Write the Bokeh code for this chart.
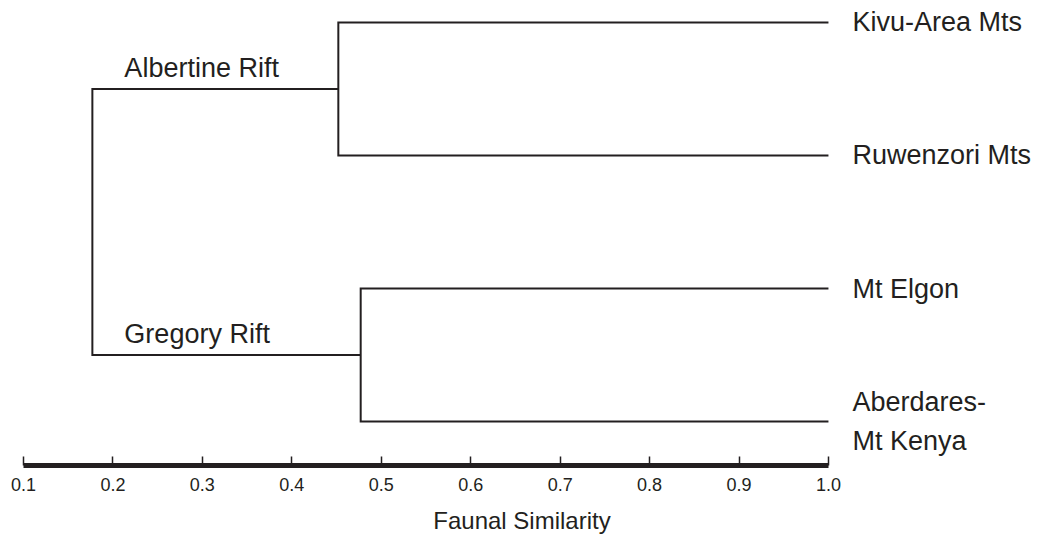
from bokeh.plotting import figure
from bokeh.models import Range1d, FixedTicker, PrintfTickFormatter
from bokeh.core.properties import value
from bokeh.embed import file_html
from bokeh.resources import INLINE

# ---- data ----
leaf_names = ["Kivu-Area Mts", "Ruwenzori Mts", "Mt Elgon", "Aberdares-\nMt Kenya"]
leaf_similarity = [1.0, 1.0, 1.0, 1.0]
cluster_names = ["Albertine Rift", "Gregory Rift"]
cluster_similarity = [0.452, 0.477]
cluster_members = [[0, 1], [2, 3]]
root_similarity = 0.177
tick_values = [0.1, 0.2, 0.3, 0.4, 0.5, 0.6, 0.7, 0.8, 0.9, 1.0]
axis_title = "Faunal Similarity"

INK = "#231f20"
FONT = value("Liberation Sans")

W, H = 1043, 536
px_per_unit = 894.4
x0_px = 23
axis_px = 466
leaf_top_px = 22
leaf_step_px = 133.33
p = figure(width=W, height=H, output_backend="svg", toolbar_location=None,
           x_range=Range1d(0.1 - x0_px / px_per_unit, 0.1 + (W - x0_px) / px_per_unit),
           y_range=Range1d((axis_px - leaf_top_px) / leaf_step_px, -leaf_top_px / leaf_step_px),
           y_axis_location=None, x_axis_location="below",
           min_border_left=0, min_border_right=0, min_border_top=0,
           min_border_bottom=H - axis_px)
p.outline_line_color = None
p.xgrid.visible = False
p.ygrid.visible = False
p.background_fill_color = "white"
p.border_fill_color = "white"

# ---- dendrogram paths ----
xs, ys = [], []
cluster_y = []
for c_sim, members in zip(cluster_similarity, cluster_members):
    a, b = members
    xs.append([leaf_similarity[a], c_sim, c_sim, leaf_similarity[b]])
    ys.append([a, a, b, b])
    cluster_y.append((a + b) / 2)
xs.append([cluster_similarity[0], root_similarity, root_similarity, cluster_similarity[1]])
ys.append([cluster_y[0], cluster_y[0], cluster_y[1], cluster_y[1]])
p.multi_line(xs, ys, line_color=INK, line_width=2, line_join="miter")

# ---- leaf labels ----
p.text(x=leaf_similarity, y=list(range(len(leaf_names))), text=leaf_names,
       x_offset=24, text_baseline="middle", text_align="left",
       text_font=FONT, text_font_size="27px", text_color=INK, text_line_height=1.28)

# ---- cluster labels ----
p.text(x=[root_similarity] * len(cluster_names), y=cluster_y, text=cluster_names,
       x_offset=32, y_offset=-21, text_baseline="alphabetic", text_align="left",
       text_font=FONT, text_font_size="27px", text_color=INK)

# ---- axis ----
ax = p.xaxis[0]
ax.bounds = (tick_values[0], tick_values[-1])
ax.ticker = FixedTicker(ticks=tick_values)
ax.formatter = PrintfTickFormatter(format="%.1f")
ax.axis_line_width = 5
ax.axis_line_color = INK
ax.major_tick_in = 9
ax.major_tick_out = 0
ax.major_tick_line_width = 1.5
ax.major_tick_line_color = INK
ax.minor_tick_line_color = None
ax.major_label_standoff = 12
ax.major_label_text_font = "Liberation Sans"
ax.major_label_text_font_size = "18px"
ax.major_label_text_color = INK
ax.axis_label = axis_title
ax.axis_label_standoff = 13
ax.axis_label_text_font = "Liberation Sans"
ax.axis_label_text_font_size = "24px"
ax.axis_label_text_font_style = "normal"
ax.axis_label_text_color = INK

open("out.html", "w").write(file_html(p, INLINE))
